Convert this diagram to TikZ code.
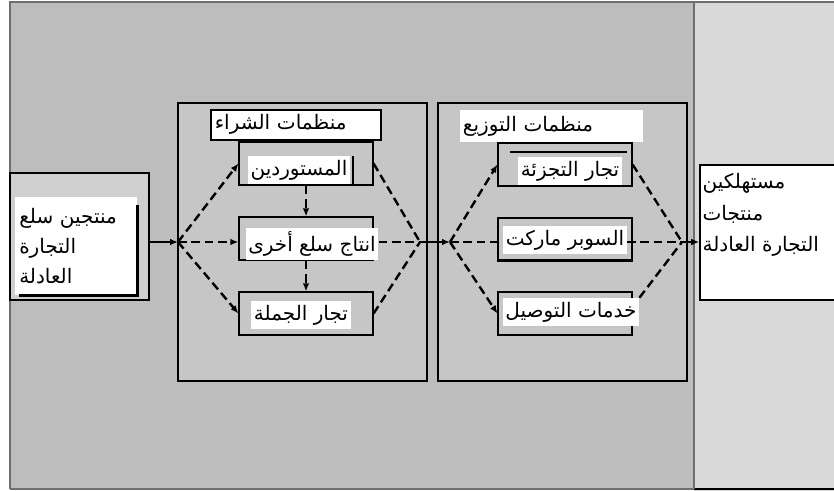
\documentclass[tikz,border=0pt]{standalone}
\usepackage{fontspec}
\newfontfamily\arabicfont[Script=Arabic]{DejaVu Sans}
\TeXXeTstate=1
\usetikzlibrary{fit,arrows.meta}
\newcommand{\ar}[1]{{\arabicfont\beginR #1\endR}}
\definecolor{bggray}{HTML}{BDBDBD}
\definecolor{panelgray}{HTML}{D9D9D9}
\definecolor{framegray}{HTML}{C6C6C6}
\definecolor{prodgray}{HTML}{CFCFCF}
\definecolor{edgegray}{HTML}{6E6E6E}

\begin{document}
\begin{tikzpicture}[x=0.75pt,y=-0.75pt,
	frame/.style={draw=black,fill=framegray,inner sep=0pt,line width=0.8pt},
	box/.style={draw=black,fill=framegray,inner sep=0pt,line width=0.9pt},
	txt/.style={fill=white,inner xsep=2pt,inner ysep=3pt,font=\fontsize{15}{22.5}\selectfont},
	dashline/.style={dash pattern=on 6.5pt off 3.5pt,line width=1.8pt},
	dasharrow/.style={dashline,-{Latex[length=6pt,width=5pt]}},
	solidarrow/.style={line width=1.8pt,-{Latex[length=6pt,width=5pt]}}]
		\useasboundingbox (0,0) rectangle (834,491);
		% background and right panel
		\fill[bggray] (10,2) rectangle (694,489);
		\fill[panelgray] (694,2) rectangle (834,491);
		\draw[edgegray,line width=1pt] (10,489) -- (10,2) -- (834,2);
		\draw[edgegray,line width=1pt] (10,489) -- (694,489);
		\draw[black,line width=1pt] (694,489) -- (834,489);
		\draw[edgegray,line width=1pt] (694,2) -- (694,489);
		
		% frames
		\node[frame,fill=prodgray,fit={(10,173) (149,300)}] (prod) {};
		\node[frame,fit={(178,103) (427,381)}] (buy) {};
		\node[frame,fit={(438,103) (687,381)}] (dist) {};
		\node[frame,fill=white,line width=1.2pt,fit={(700,165) (850,300)}] (cons) {};
		
		% producers
		\node[txt,anchor=north west,text width=85.5pt,minimum height=73.5pt,inner sep=3pt,align=left] (prodT) at (15,197)
			{\ar{منتجين سلع}\\ \ar{التجارة}\\ \ar{العادلة}};
		\draw[line width=2.5pt] ([yshift=-6pt]prodT.north east) -- (prodT.south east) -- ([xshift=3pt]prodT.south west);
		
		% purchase organisations
		\node[box,fit={(239,142) (373,185)}] (imp) {};
		\node[box,fit={(239,217) (373,260)}] (prodn) {};
		\node[box,fit={(239,292) (373,335)}] (whole) {};
		\node[txt,draw=black,line width=1.2pt,anchor=north west,text width=121.5pt,minimum height=22.5pt,inner sep=3pt,align=left] (buyT) at (210,109) {\ar{منظمات الشراء}};
		\node[txt] (impT) at (299,170) {\ar{المستوردين}};
		\draw[line width=2pt] ([xshift=2pt]impT.north east) -- ([xshift=2pt]impT.south east);
		\node[txt] (prodnT) at (312,244) {\ar{انتاج سلع أخرى}};
		\node[txt] (wholeT) at (301,315) {\ar{تجار الجملة}};
		
		% distribution organisations
		\node[box,fit={(498,143) (632,186)}] (retail) {};
		\node[box,fit={(498,218) (632,260)}] (super) {};
		\node[box,fit={(498,292) (632,335)}] (deliv) {};
		\node[txt,anchor=north west,text width=133pt,minimum height=24pt,align=left] (distT) at (460,110) {\ar{منظمات التوزيع}};
		\draw[line width=2pt] (510,152) -- (627,152);
		\draw[line width=2.5pt] (super.south west) -- (super.south east);
		\node[txt] (retailT) at (570,171) {\ar{تجار التجزئة}};
		\node[txt] (superT) at (565,240) {\ar{السوبر ماركت}};
		\node[txt] (delivT) at (571,312) {\ar{خدمات التوصيل}};
		
		% consumers
		\node[txt,anchor=north west,align=left,inner sep=1pt,font=\fontsize{15}{23.5}\selectfont] (consT) at (701,172)
			{\ar{مستهلكين}\\ \ar{منتجات}\\ \ar{التجارة العادلة}};
		
		% hubs
		\coordinate (hubA) at (178,242);
		\coordinate (hubB) at (420,242);
		\coordinate (hubC) at (450,242);
		\coordinate (hubD) at (682,242);
		
		% connectors
		\draw[solidarrow] (prod.east |- hubA) -- (hubA);
		\draw[dasharrow] (hubA) -- (imp.west);
		\draw[dasharrow] (hubA) -- (hubA -| prodn.west);
		\draw[dasharrow] (hubA) -- (whole.west);
		\draw[dasharrow] (imp.south) -- (prodn.north);
		\draw[dasharrow] (prodnT.south -| prodn.south) -- (whole.north);
		\draw[dashline] (imp.east) -- (hubB);
		\draw[dashline] (prodnT.east |- hubB) -- (hubB);
		\draw[dashline] (whole.east) -- (hubB);
		\draw[solidarrow] (hubB) -- (hubC);
		\draw[dasharrow] (hubC) -- (retail.west);
		\draw[dashline] (hubC) -- (superT.west |- hubC);
		\draw[dasharrow] (hubC) -- (deliv.west);
		\draw[dashline] (retail.east) -- (hubD);
		\draw[dashline] (superT.east |- hubD) -- (hubD);
		\draw[dashline] (delivT.north east) -- (hubD);
		\draw[solidarrow] (hubD) -- (cons.west |- hubD);
\end{tikzpicture}
\end{document}
